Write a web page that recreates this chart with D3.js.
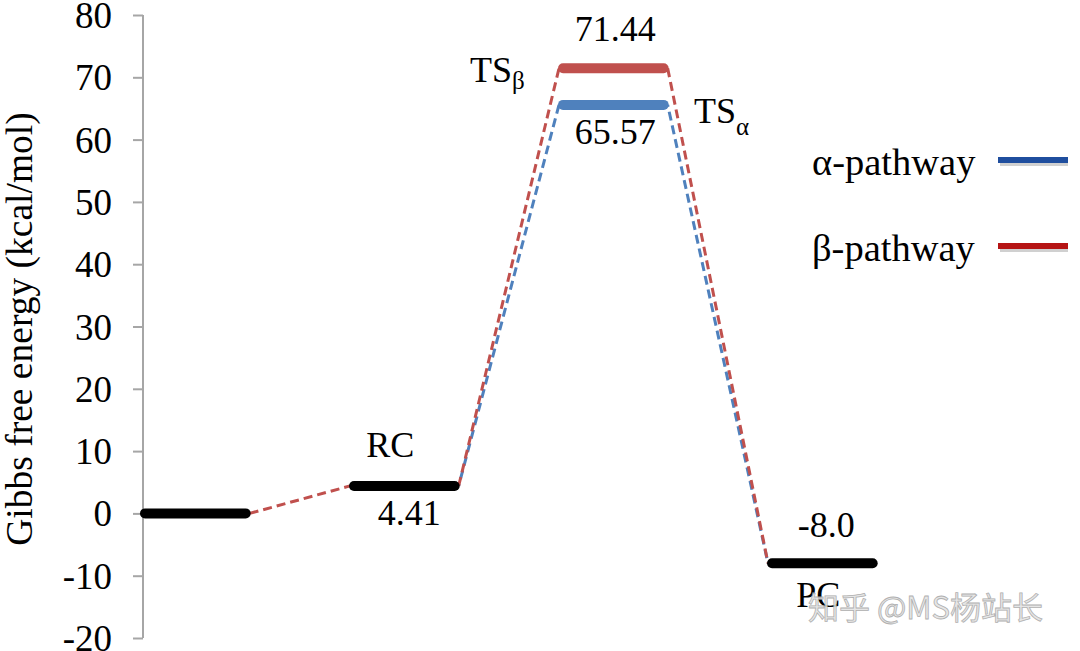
<!DOCTYPE html>
<html>
<head>
<meta charset="utf-8">
<script src="https://cdn.jsdelivr.net/npm/d3@7"></script>
<style>
 body { margin:0; background:#fff; }
</style>
</head>
<body>
<script>
var states = ["start", "RC", "TS", "PC"];
var alphaEnergy = [0, 4.41, 65.57, -8.0];
var betaEnergy = [0, 4.41, 71.44, -8.0];
var yTicks = [-20, -10, 0, 10, 20, 30, 40, 50, 60, 70, 80];

var W = 1080, H = 651;
var FONT = "Liberation Serif, serif";
var FS = 36;
var svg = d3.select("body").append("svg").attr("width", W).attr("height", H);

var y = d3.scaleLinear().domain([-20, 80]).range([638, 15]);
var x = d3.scaleLinear().domain([0, 4]).range([141, 977]);
var barW = 0.52;

/* axis */
var ax = svg.append("g").attr("transform", "translate(143,0)")
 .call(d3.axisLeft(y).tickValues(yTicks).tickSize(10).tickPadding(21).tickFormat(function(d) { return String(d); }));
ax.selectAll("path,line").attr("stroke", "#a6a6a6").attr("stroke-width", 2);
ax.select(".domain").attr("d", "M0," + y(80) + "V" + y(-20));
ax.selectAll("text").attr("font-family", FONT).attr("font-size", 37).attr("fill", "#000").attr("dy", "0.34em");

svg.append("text").attr("transform", "translate(32," + 329 + ") rotate(-90)")
 .attr("font-family", FONT)
 .attr("text-anchor", "middle").attr("font-size", 37.5).text("Gibbs free energy (kcal/mol)");

/* dashed connectors: alpha only where it differs from beta */
function connectors(en, other, color, offset) {
 for (var i = 0; i < en.length - 1; i++) {
  if (other && en[i] == other[i] && en[i + 1] == other[i + 1]) continue;
  svg.append("line")
   .attr("x1", x(i + barW)).attr("y1", y(en[i]))
   .attr("x2", x(i + 1)).attr("y2", y(en[i + 1]))
   .attr("stroke", color).attr("stroke-width", 3)
   .attr("stroke-dasharray", "9,5").attr("stroke-dashoffset", offset);
 }
}
connectors(alphaEnergy, betaEnergy, "#4f81bd", 7);
connectors(betaEnergy, null, "#c0504d", 0);

/* levels */
states.forEach(function(s, i) {
 var list = alphaEnergy[i] == betaEnergy[i] ? [[alphaEnergy[i], "#000"]] : [[betaEnergy[i], "#c0504d"], [alphaEnergy[i], "#4f81bd"]];
 list.forEach(function(d) {
  svg.append("line")
   .attr("x1", x(i) + 4).attr("x2", x(i + barW) - 4)
   .attr("y1", y(d[0])).attr("y2", y(d[0]))
   .attr("stroke", d[1]).attr("stroke-width", 10).attr("stroke-linecap", "round");
 });
});

/* labels */
function label(t, px, py, anchor) {
 return svg.append("text").attr("x", px).attr("y", py).attr("font-size", FS)
  .attr("font-family", FONT)
  .attr("text-anchor", anchor || "middle").text(t);
}
function mid(i) { return (x(i) + x(i + barW)) / 2; }

label("RC", mid(1) - 14, y(alphaEnergy[1]) - 29);
label(alphaEnergy[1].toFixed(2), mid(1) + 5, y(alphaEnergy[1]) + 39);
label(betaEnergy[2].toFixed(2), mid(2) + 2, y(betaEnergy[2]) - 27);
label(alphaEnergy[2].toFixed(2), mid(2) + 2, y(alphaEnergy[2]) + 39);
label(alphaEnergy[3].toFixed(1), mid(3) + 4, y(alphaEnergy[3]) - 26);
label("PC", mid(3) - 4, y(alphaEnergy[3]) + 44);

var tsb = label("TS", 470, y(betaEnergy[2]) + 14, "start");
tsb.append("tspan").attr("font-size", 25).attr("dy", 7).text("β");
var tsa = label("TS", 694, y(alphaEnergy[2]) + 18, "start");
tsa.append("tspan").attr("font-size", 25).attr("dy", 12).text("α");

/* legend */
var legend = [["α-pathway", "#1f4e9e", 160], ["β-pathway", "#b51414", 246]];
legend.forEach(function(d) {
 svg.append("line").attr("x1", 1000).attr("x2", 1068).attr("y1", d[2] + 3).attr("y2", d[2] + 3)
  .attr("stroke", "#d0d0d0").attr("stroke-width", 6);
 svg.append("line").attr("x1", 998).attr("x2", 1068).attr("y1", d[2]).attr("y2", d[2])
  .attr("stroke", d[1]).attr("stroke-width", 6);
 svg.append("text").attr("x", 812).attr("y", d[2] + 15).attr("font-family", FONT)
  .attr("font-size", 38.5).text(d[0]);
});

/* watermark */
svg.append("text").attr("x", 808).attr("y", 619).attr("font-family", "Noto Sans CJK SC, sans-serif")
 .attr("font-size", 31).attr("fill", "#e4e4e4").attr("stroke", "#a8a8a8").attr("stroke-width", 0.8)
 .attr("opacity", 0.9).text("知乎 @MS杨站长");
</script>
</body>
</html>
